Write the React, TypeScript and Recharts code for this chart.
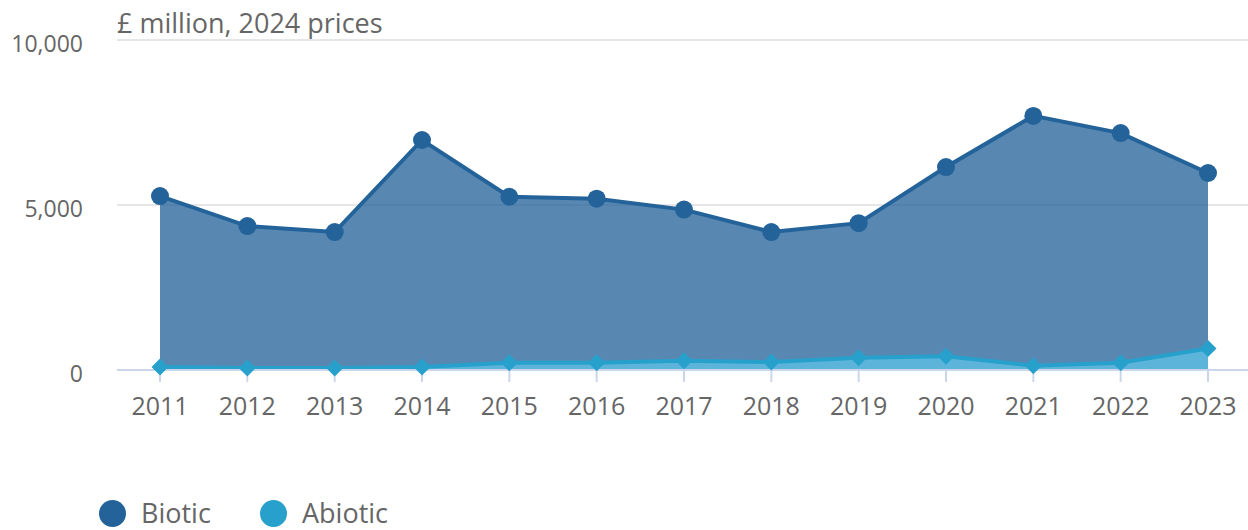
import React from "react";
import {
  AreaChart,
  Area,
  XAxis,
  YAxis,
  CartesianGrid,
} from "recharts";

const years = ["2011", "2012", "2013", "2014", "2015", "2016", "2017", "2018", "2019", "2020", "2021", "2022", "2023"];
const biotic = [5270, 4360, 4180, 6970, 5250, 5190, 4860, 4180, 4450, 6150, 7700, 7180, 5970];
const abiotic = [90, 60, 60, 90, 220, 220, 280, 240, 370, 420, 130, 220, 650];
const yTicks = [0, 5000, 10000];

const BIOTIC = "#23639a";
const ABIOTIC = "#27a1cc";
const TEXT = "#666666";
const FONT = "'Open Sans', sans-serif";

const data = years.map((year, i) => ({ year, biotic: biotic[i], abiotic: abiotic[i] }));

function Circle(props: any) {
  const { cx, cy, index } = props;
  if (cx == null || cy == null) return null;
  return <circle key={`b${index}`} cx={cx} cy={cy} r={9} fill={BIOTIC} fillOpacity={1} />;
}

function Diamond(props: any) {
  const { cx, cy, index } = props;
  if (cx == null || cy == null) return null;
  const r = 8.5;
  return (
    <path
      key={`a${index}`}
      d={`M${cx},${cy - r} L${cx + r},${cy} L${cx},${cy + r} L${cx - r},${cy} Z`}
      fill={ABIOTIC}
      fillOpacity={1}
    />
  );
}

const legendItems = [
  { name: "Biotic", color: BIOTIC, x: 99 },
  { name: "Abiotic", color: ABIOTIC, x: 260 },
];

export default function App() {
  return (
    <div style={{ position: "fixed", left: 0, top: 0, width: 1248, height: 530, background: "#fff", fontFamily: FONT, overflow: "hidden" }}>
      <div style={{ position: "absolute", left: 117, top: 4, fontSize: 27, color: TEXT, lineHeight: "38px" }}>
        £ million, 2024 prices
      </div>
      <AreaChart width={1248} height={530} data={data} margin={{ top: 40, right: 0, left: 0, bottom: 0 }}>
        <CartesianGrid horizontal vertical={false} stroke="#e6e6e6" strokeWidth={2} />
        <XAxis
          dataKey="year"
          padding={{ left: 43, right: 40 }}
          height={160}
          tickSize={12}
          tickMargin={15}
          stroke="#ccd6eb"
          strokeWidth={2}
          tick={{ fill: TEXT, fontSize: 25, fontFamily: FONT }}
          interval={0}
        />
        <YAxis
          domain={[0, 10000]}
          ticks={yTicks}
          width={117}
          axisLine={false}
          tickLine={false}
          tickMargin={28}
          tickFormatter={(v: number) => v.toLocaleString("en-GB")}
          tick={{ fill: TEXT, fontSize: 23, fontFamily: FONT, dy: 4 }}
        />
        <Area
          type="linear"
          dataKey="biotic"
          name="Biotic"
          stroke={BIOTIC}
          strokeWidth={4}
          fill={BIOTIC}
          fillOpacity={0.76}
          dot={Circle}
          activeDot={false}
          isAnimationActive={false}
        />
        <Area
          type="linear"
          dataKey="abiotic"
          name="Abiotic"
          stroke={ABIOTIC}
          strokeWidth={4}
          fill="#5cb4da"
          fillOpacity={1}
          dot={Diamond}
          activeDot={false}
          isAnimationActive={false}
        />
      </AreaChart>
      {legendItems.map((it) => (
        <div
          key={it.name}
          style={{ position: "absolute", left: it.x, top: 496, display: "flex", alignItems: "center", fontSize: 27, color: TEXT, lineHeight: "34px" }}
        >
          <span style={{ width: 27, height: 27, borderRadius: 14, background: it.color, display: "inline-block", marginRight: 15 }} />
          <span>{it.name}</span>
        </div>
      ))}
    </div>
  );
}
